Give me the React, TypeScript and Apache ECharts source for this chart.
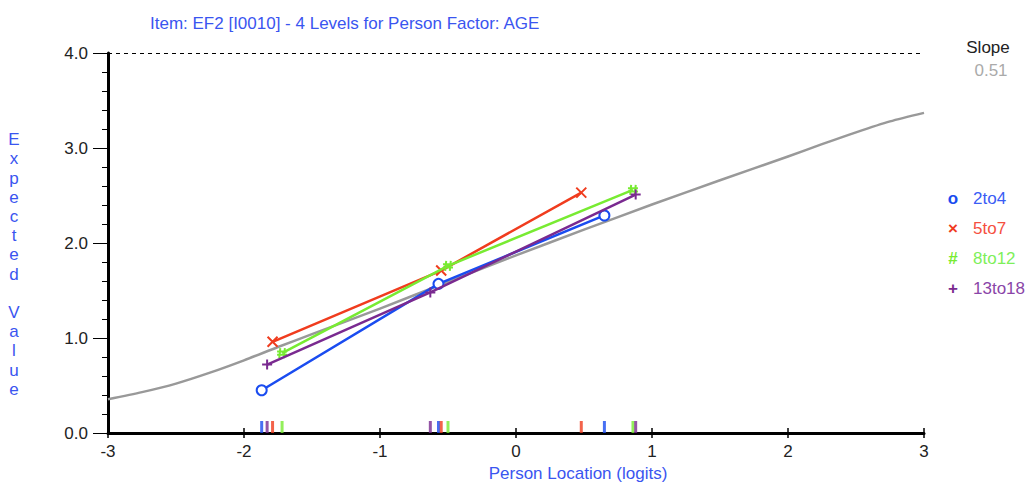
import React, { useEffect, useRef } from "react";
import * as echarts from "echarts";

// ---- data ----
const groups = ["2to4", "5to7", "8to12", "13to18"];
const groupMarks = ["o", "×", "#", "+"];
const xBlue = [-1.87, -0.57, 0.65];
const yBlue = [0.45, 1.57, 2.29];
const xRed = [-1.79, -0.55, 0.48];
const yRed = [0.96, 1.71, 2.53];
const xGreen = [-1.72, -0.5, 0.86];
const yGreen = [0.84, 1.76, 2.56];
const xPurple = [-1.83, -0.63, 0.88];
const yPurple = [0.72, 1.48, 2.51];

const iccX = [-3, -2.75, -2.5, -2.25, -2, -1.75, -1.5, -1, -0.5, 0, 0.5, 1, 1.5, 2, 2.25, 2.5, 2.75, 3];
const iccY = [0.355, 0.43, 0.52, 0.635, 0.765, 0.905, 1.04, 1.31, 1.59, 1.87, 2.14, 2.405, 2.66, 2.91, 3.04, 3.165, 3.28, 3.37];

const xTicks = [-3, -2, -1, 0, 1, 2, 3];
const yTicks = [0, 1, 2, 3, 4];
const slopeValue = "0.51";
const titleText = "Item: EF2 [I0010] - 4 Levels for Person Factor: AGE";
const xName = "Person Location (logits)";
const yName = "Expected Value";

// ---- styles ----
const FONT = "'Liberation Sans', Arial, sans-serif";
const FS = 17;
const lineColors = ["#1a4cf0", "#f03c1e", "#78eb32", "#7a2a90"];
const textColors = ["#3a5cf5", "#f5503f", "#7eef5a", "#8a45a8"];
const symbols = [
  "emptyCircle",
  "path://M0,0L10,10M10,0L0,10",
  "path://M3.2,0L2.2,10M7.8,0L6.8,10M0,3.4L10,3.4M0,6.6L10,6.6",
  "path://M5,0L5,10M0,5L10,5",
];

export default function App() {
  const ref = useRef<HTMLDivElement>(null);
  useEffect(() => {
    document.body.style.margin = "0";
    const chart = echarts.init(ref.current!, null, { renderer: "svg" });
    const xs = [xBlue, xRed, xGreen, xPurple];
    const ys = [yBlue, yRed, yGreen, yPurple];

    const groupSeries: any[] = groups.map((g, i) => ({
      name: g,
      type: "line",
      xAxisIndex: 0,
      data: xs[i].map((x, k) => [x, ys[i][k]]),
      symbol: symbols[i],
      symbolSize: 10,
      showSymbol: true,
      lineStyle: { color: lineColors[i], width: 2.5 },
      itemStyle: {
        color: lineColors[i],
        borderColor: lineColors[i],
        borderWidth: 2,
      },
      z: 5 + i,
    }));

    const tickSeries: any[] = groups.map((g, i) => ({
      name: g + "-loc",
      type: "scatter",
      xAxisIndex: 0,
      data: xs[i].map((x) => [x, 0]),
      symbol: "rect",
      symbolSize: [3, 12],
      symbolOffset: [0, -6],
      itemStyle: { color: lineColors[i] },
      z: 10,
    }));

    const graphics: any[] = [
      {
        type: "text",
        x: 150,
        y: 23,
        style: {
          text: titleText,
          fill: "#3a55f0",
          font: `${FS}px ${FONT}`,
          verticalAlign: "middle",
        },
      },
      {
        type: "text",
        x: 578,
        y: 473,
        style: {
          text: xName,
          fill: "#3a55f0",
          font: `${FS}px ${FONT}`,
          align: "center",
          verticalAlign: "middle",
        },
      },
      {
        type: "text",
        x: 14,
        y: 130,
        style: {
          text: yName.split("").join("\n"),
          fill: "#3a55f0",
          font: `${FS}px ${FONT}`,
          align: "center",
          lineHeight: 19.2,
        },
      },
      {
        type: "text",
        x: 988,
        y: 47,
        style: {
          text: "Slope",
          fill: "#222",
          font: `${FS}px ${FONT}`,
          align: "center",
          verticalAlign: "middle",
        },
      },
      {
        type: "text",
        x: 991,
        y: 70,
        style: {
          text: slopeValue,
          fill: "#aaaaaa",
          font: `${FS}px ${FONT}`,
          align: "center",
          verticalAlign: "middle",
        },
      },
    ];
    groups.forEach((g, i) => {
      const y = 198 + i * 30;
      graphics.push({
        type: "text",
        x: 953,
        y,
        style: {
          text: groupMarks[i],
          fill: lineColors[i],
          font: `bold ${FS}px ${FONT}`,
          align: "center",
          verticalAlign: "middle",
        },
      });
      graphics.push({
        type: "text",
        x: 973,
        y,
        style: {
          text: g,
          fill: textColors[i],
          font: `${FS}px ${FONT}`,
          align: "left",
          verticalAlign: "middle",
        },
      });
    });

    chart.setOption({
      animation: false,
      textStyle: { fontFamily: FONT },
      grid: { left: 108, right: 110, top: 53, bottom: 54, containLabel: false },
      xAxis: [
        {
          type: "value",
          min: xTicks[0],
          max: xTicks[xTicks.length - 1],
          interval: 1,
          axisLine: { show: true, onZero: false, lineStyle: { color: "#000", width: 3 } },
          axisTick: { show: true, length: 5, lineStyle: { color: "#000", width: 1.5 } },
          axisLabel: {
            color: "#222",
            fontSize: FS,
            margin: 10,
            fontFamily: FONT,
            formatter: (v: number) => String(v),
          },
          splitLine: { show: false },
        },
        {
          type: "value",
          position: "bottom",
          min: xTicks[0],
          max: xTicks[xTicks.length - 1],
          interval: 1,
          axisLine: { show: false },
          axisTick: { show: true, inside: true, length: 5, lineStyle: { color: "#000", width: 1.5 } },
          axisLabel: { show: false },
          splitLine: { show: false },
        },
      ],
      yAxis: {
        type: "value",
        min: yTicks[0],
        max: yTicks[yTicks.length - 1],
        interval: 1,
        axisLine: { show: true, onZero: false, lineStyle: { color: "#000", width: 3 } },
        axisTick: { show: true, length: 15, lineStyle: { color: "#000", width: 1 } },
        minorTick: { show: true, splitNumber: 5, length: 6, lineStyle: { color: "#000", width: 1 } },
        axisLabel: {
          color: "#222",
          fontSize: FS,
          margin: 20,
          fontFamily: FONT,
          formatter: (v: number) => v.toFixed(1),
        },
        splitLine: { show: false },
      },
      graphic: graphics,
      series: [
        {
          name: "ICC",
          type: "line",
          xAxisIndex: 0,
          data: iccX.map((x, k) => [x, iccY[k]]),
          smooth: 0.25,
          symbol: "none",
          lineStyle: { color: "#999999", width: 2.5, join: "round" },
          z: 3,
          markLine: {
            silent: true,
            symbol: "none",
            label: { show: false },
            lineStyle: { color: "#000", type: [4, 4], width: 1 },
            data: [{ yAxis: yTicks[yTicks.length - 1] }],
          },
        },
        ...groupSeries,
        ...tickSeries,
      ],
    });
    return () => chart.dispose();
  }, []);
  return <div ref={ref} style={{ width: 1034, height: 487 }} />;
}
